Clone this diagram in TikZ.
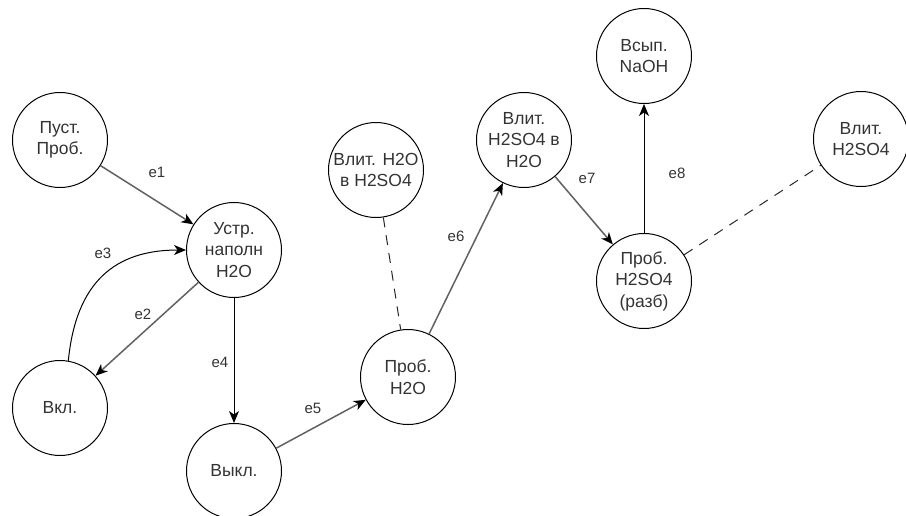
\documentclass[tikz,border=0pt]{standalone}
\usepackage{fontspec}
\setmainfont{Liberation Sans}
\usetikzlibrary{arrows.meta}
\begin{document}
\begin{tikzpicture}[x=1pt,y=-1pt,
  state/.style={circle,draw=black,line width=1pt,minimum size=95pt,inner sep=0pt,
    align=center,font=\fontsize{17.5}{21.5}\selectfont,text=black!80},
  elabel/.style={font=\fontsize{15}{18}\selectfont,text=black!80,inner sep=0pt},
  flow/.style={draw=black!62,line width=1.5pt,-{Stealth[length=12pt,width=10pt,inset=3.5pt,black]}},
  flowdark/.style={draw=black,line width=1pt,-{Stealth[length=12pt,width=10pt,inset=3.5pt,black]}},
  link/.style={draw=black!85,line width=1pt,dash pattern=on 10pt off 8pt}]
\useasboundingbox (0,0) rectangle (906,515);

% states
\node[state] (empty)  at (60,140)  {Пуст.\\Проб.};
\node[state] (fill)   at (234,250) {Устр.\\наполн\\H2O};
\node[state] (on)     at (60,408)  {Вкл.};
\node[state] (off)    at (234,471) {Выкл.};
\node[state] (tubew)  at (408,377) {Проб.\\H2O};
\node[state] (wacid)  at (376,170) {Влит. H2O\\в H2SO4};
\node[state] (acidw)  at (524,140) {Влит.\\H2SO4 в\\H2O};
\node[state] (naoh)   at (644,56)  {Всып.\\NaOH};
\node[state] (dilute) at (644,281) {Проб.\\H2SO4\\(разб)};
\node[state] (acid)   at (861,139) {Влит.\\H2SO4};

% transitions
\draw[flow] (empty) -- (fill);
\draw[flow] (fill) -- (on);
\draw[flowdark] (on.80) .. controls (76,282) and (115,250) .. (fill.west);
\draw[flowdark] (fill) -- (off);
\draw[flow] (off) -- (tubew);
\draw[flow] (tubew) -- (acidw);
\draw[flow] (acidw) -- (dilute);
\draw[flowdark] (dilute) -- (naoh);

% associations
\draw[link] (wacid) -- (tubew);
\draw[link] (dilute) -- (acid);

% transition labels
\node[elabel] (l1) at (157,172) {e1};
\node[elabel] (l2) at (143,314) {e2};
\node[elabel] (l3) at (103,253) {e3};
\node[elabel] (l4) at (220,362) {e4};
\node[elabel] (l5) at (313,408) {e5};
\node[elabel] (l6) at (456,236) {e6};
\node[elabel] (l7) at (587,178) {e7};
\node[elabel] (l8) at (677,173) {e8};
\end{tikzpicture}
\end{document}
